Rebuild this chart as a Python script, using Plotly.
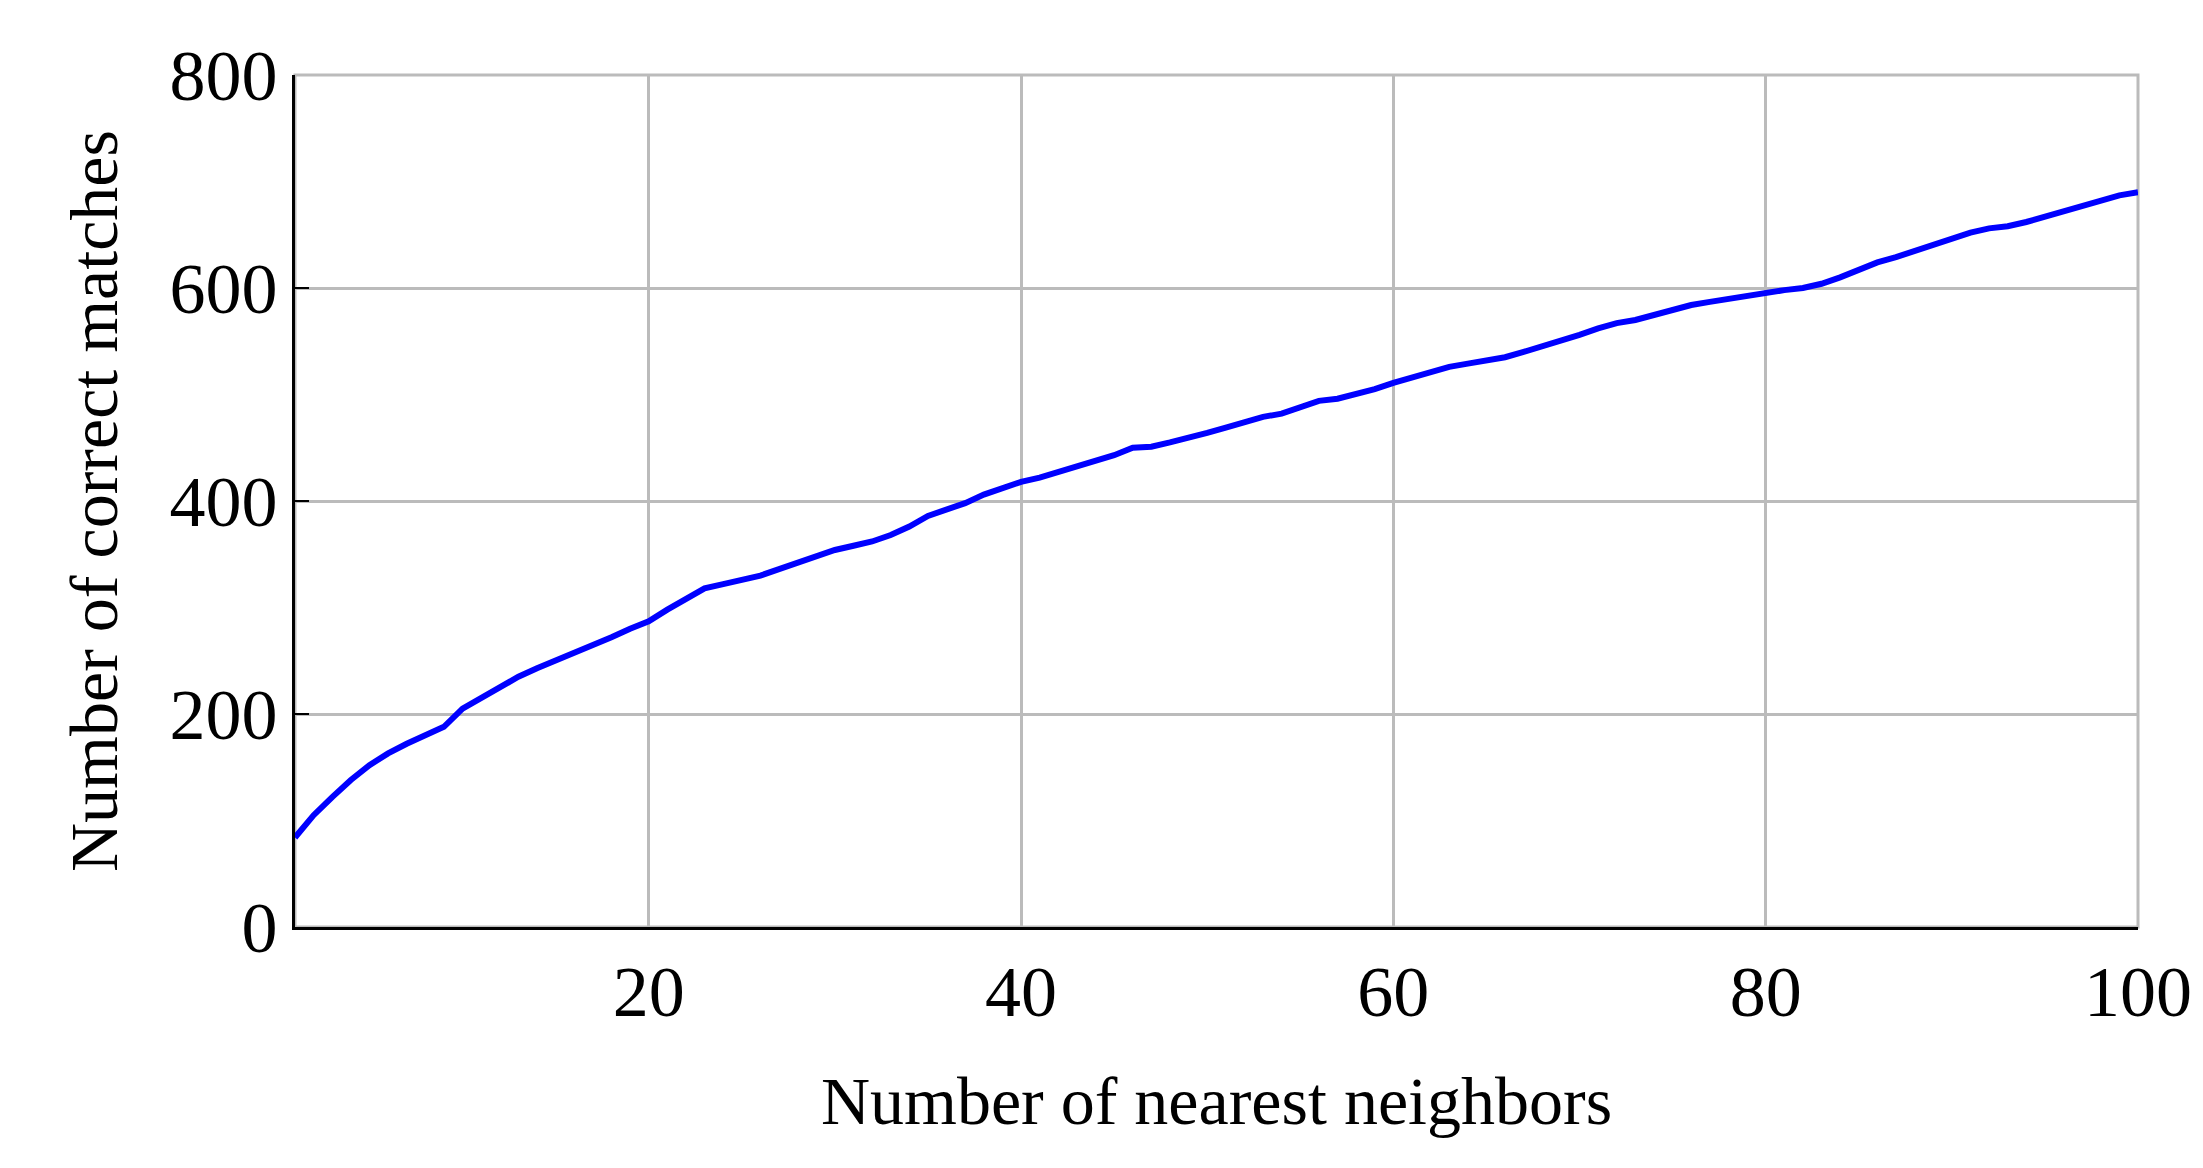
import plotly.graph_objects as go

neighbors = list(range(1, 101))
matches = [84,105,122,138,152,163,172,180,188,205,215,224,235,243,250,257,265,272,280,287,
           298,308,318,322,326,330,336,342,349,354,358,362,368,376,386,392,398,406,412,418,
           422,427,432,437,443,450,451,455,459,464,469,474,479,482,488,494,496,500,505,511,
           516,521,526,529,532,535,540,545,550,556,562,567,570,575,580,584,587,590,592,596,
           598,600,604,610,617,624,629,635,641,647,652,656,658,662,667,672,676,681,687,690]
x_ticks = [20, 40, 60, 80, 100]
y_ticks = [0, 200, 400, 600, 800]

fam = "Liberation Serif, DejaVu Serif, serif"
tfont = dict(family=fam, size=72, color="black")
afont = dict(family=fam, size=68, color="black")
fig = go.Figure(go.Scatter(x=neighbors, y=matches, mode="lines",
                           line=dict(color="#0000ff", width=6)))
fig.add_shape(type="rect", xref="paper", yref="paper", x0=0, x1=1, y0=0, y1=1,
              line=dict(color="#bbbbbb", width=3), layer="below")
fig.update_layout(
    width=2203, height=1168, plot_bgcolor="white", paper_bgcolor="white",
    margin=dict(l=287, r=73, t=67, b=249), font=tfont, showlegend=False,
    xaxis=dict(range=[1, 100], tickvals=x_ticks, showgrid=True, gridcolor="#bbbbbb", gridwidth=3,
               showline=True, linecolor="black", linewidth=3, zeroline=False,
               title=dict(text="Number of nearest neighbors", standoff=45, font=afont), ticks="", tickfont=tfont),
    yaxis=dict(range=[0, 800], tickvals=y_ticks, showgrid=True, gridcolor="#bbbbbb", gridwidth=3,
               showline=True, linecolor="black", linewidth=3, zeroline=False,
               ticks="inside", ticklen=14, tickwidth=2, tickcolor="black",
               title=dict(text="Number of correct matches", standoff=30, font=afont), tickfont=tfont),
)
fig.write_html("out.html")
